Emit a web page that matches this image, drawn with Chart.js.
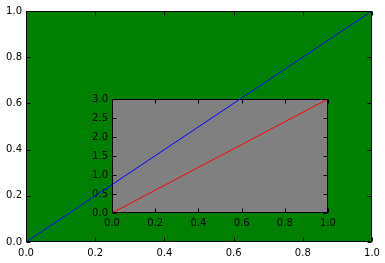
<!DOCTYPE html>
<html>
<head>
<meta charset="utf-8">
<script src="https://cdn.jsdelivr.net/npm/chart.js@4.4.1/dist/chart.umd.min.js"></script>
<style>
  html, body { margin: 0; padding: 0; background: #fff; }
  #wrap { position: relative; width: 385px; height: 263px; overflow: hidden; }
  #wrap canvas, #plotBg { position: absolute; left: 0; top: 0; }
  #plotBg { background: #008000; }
</style>
</head>
<body>
<div id="wrap">
  <div id="plotBg"></div>
  <canvas id="inset" width="385" height="263"></canvas>
  <canvas id="main" width="385" height="263"></canvas>
</div>
<script>
// main axes data
const mainX = [0, 1];
const mainY = [0, 1];
const mainXTicks = [0, 0.2, 0.4, 0.6, 0.8, 1.0];
const mainYTicks = [0, 0.2, 0.4, 0.6, 0.8, 1.0];

// inset axes data
const insetX = [0, 1];
const insetY = [0, 3];
const insetXTicks = [0, 0.2, 0.4, 0.6, 0.8, 1.0];
const insetYTicks = [0, 0.5, 1.0, 1.5, 2.0, 2.5, 3.0];

Chart.defaults.font.family = "'DejaVu Sans', sans-serif";
Chart.defaults.font.size = 10;
Chart.defaults.color = "#000";

// matplotlib style: ticks pointing inwards on all four sides + black frame
const frameTicks = {
  id: "frameTicks",
  afterDraw(chart, args, opts) {
    const { ctx, chartArea: a, scales } = chart;
    const len = opts.len || 4;
    const L = Math.round(a.left) + 0.5, R = Math.round(a.right) - 0.5;
    const T = Math.round(a.top) + 0.5, B = Math.round(a.bottom) - 0.5;
    ctx.save();
    ctx.strokeStyle = "#000";
    ctx.lineWidth = 1;
    ctx.beginPath();
    scales.x.ticks.forEach(t => {
      const px = Math.round(scales.x.getPixelForValue(t.value)) + 0.5;
      ctx.moveTo(px, B); ctx.lineTo(px, B - len);
      ctx.moveTo(px, T); ctx.lineTo(px, T + len);
    });
    scales.y.ticks.forEach(t => {
      const py = Math.round(scales.y.getPixelForValue(t.value)) + 0.5;
      ctx.moveTo(L, py); ctx.lineTo(L + len, py);
      ctx.moveTo(R, py); ctx.lineTo(R - len, py);
    });
    ctx.stroke();
    ctx.strokeRect(L, T, R - L, B - T);
    ctx.restore();
  }
};

// plot background (drawn inside chart area, under datasets)
const areaFill = {
  id: "areaFill",
  beforeDatasetsDraw(chart, args, opts) {
    if (!opts.color) return;
    const { ctx, chartArea: a } = chart;
    ctx.save();
    ctx.fillStyle = opts.color;
    ctx.fillRect(a.left, a.top, a.right - a.left, a.bottom - a.top);
    ctx.restore();
  }
};

function toPoints(xs, ys) {
  return xs.map((x, i) => ({ x: x, y: ys[i] }));
}

function axis(min, max, tickList, pad, extra) {
  return Object.assign({
    type: "linear",
    min: min,
    max: max,
    grid: { display: false, drawTicks: false },
    border: { display: false },
    afterBuildTicks(scale) { scale.ticks = tickList.map(v => ({ value: v })); },
    ticks: { callback: v => Number(v).toFixed(1), padding: pad }
  }, extra);
}

// inset chart (grey axes)
new Chart(document.getElementById("inset"), {
  type: "line",
  data: {
    datasets: [{
      data: toPoints(insetX, insetY),
      borderColor: "#ff0000",
      borderWidth: 1,
      pointRadius: 0
    }]
  },
  options: {
    responsive: false,
    animation: false,
    devicePixelRatio: 1,
    layout: { padding: { left: 86, top: 99, right: 57, bottom: 29 } },
    plugins: {
      legend: { display: false },
      tooltip: { enabled: false },
      areaFill: { color: "#808080" },
      frameTicks: { len: 4 }
    },
    scales: {
      x: axis(0, 1, insetXTicks, 4, { afterFit(s) { s.height = 21; } }),
      y: axis(0, 3, insetYTicks, 4, { afterFit(s) { s.width = 26; } })
    }
  },
  plugins: [areaFill, frameTicks]
});

// main chart (green axes), drawn on top so the blue line crosses the inset
new Chart(document.getElementById("main"), {
  type: "line",
  data: {
    datasets: [{
      data: toPoints(mainX, mainY),
      borderColor: "#0000ff",
      borderWidth: 1,
      pointRadius: 0
    }]
  },
  options: {
    responsive: false,
    animation: false,
    devicePixelRatio: 1,
    layout: { padding: { left: 0, top: 11, right: 13, bottom: 0 } },
    plugins: {
      legend: { display: false },
      tooltip: { enabled: false },
      frameTicks: { len: 4 }
    },
    scales: {
      x: axis(0, 1, mainXTicks, 5, { afterFit(s) { s.height = 21; } }),
      y: axis(0, 1, mainYTicks, 4, { afterFit(s) { s.width = 26; } })
    }
  },
  plugins: [frameTicks, {
    id: "greenBg",
    afterLayout(chart) {
      const a = chart.chartArea, bg = document.getElementById("plotBg").style;
      bg.left = a.left + "px";
      bg.top = a.top + "px";
      bg.width = (a.right - a.left) + "px";
      bg.height = (a.bottom - a.top) + "px";
    }
  }]
});
</script>
</body>
</html>
